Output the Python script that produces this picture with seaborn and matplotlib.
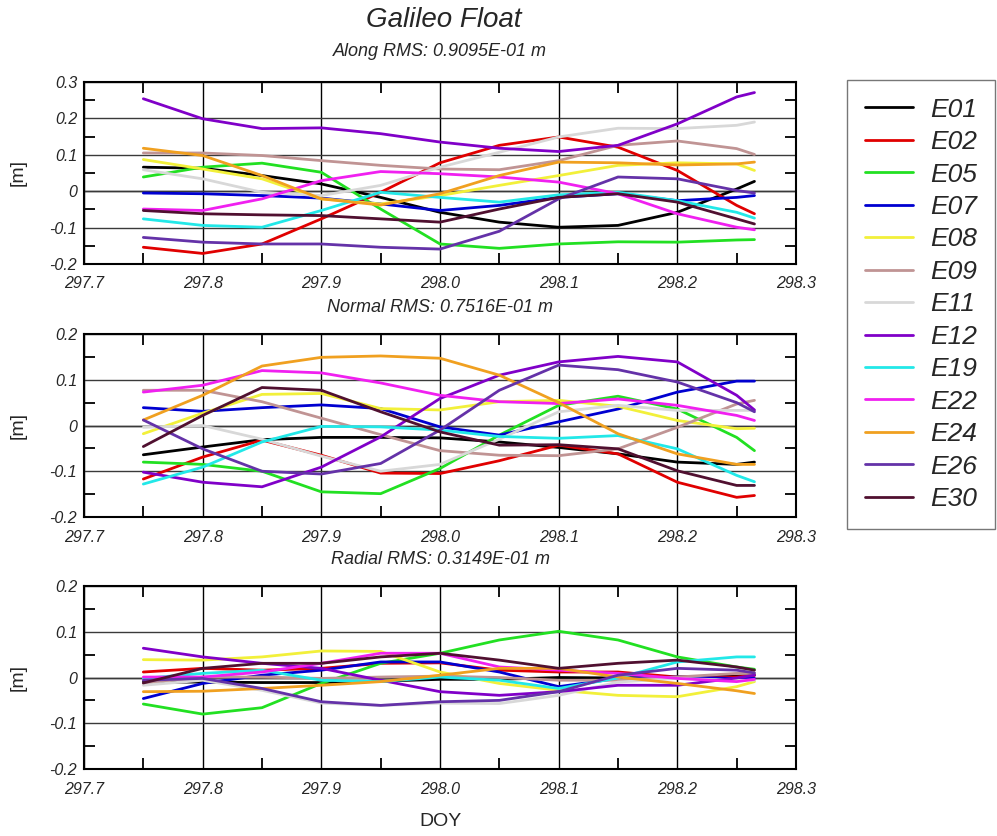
import numpy as np
import pandas as pd
import matplotlib
matplotlib.use('Agg')
import matplotlib.pyplot as plt
import seaborn as sns
from matplotlib.lines import Line2D
from matplotlib.ticker import MultipleLocator

sns.set_style('white')
plt.rcParams['font.family'] = ['Liberation Sans', 'DejaVu Sans']

# satellites and their line colours
sats = ['E01', 'E02', 'E05', 'E07', 'E08', 'E09', 'E11', 'E12', 'E19', 'E22', 'E24', 'E26', 'E30']
colors = ['#000000', '#e00000', '#22e022', '#0000d0', '#f2f03a', '#c09494', '#d8d8d8',
          '#8000c8', '#22e8e8', '#f020f0', '#f0a020', '#6432a8', '#501030']

# sampled epochs (day of year)
doy = [297.75, 297.80, 297.85, 297.90, 297.95, 298.00, 298.05, 298.10, 298.15, 298.20, 298.25, 298.265]

# residuals [m]
along = {
    'E01': [0.066, 0.063, 0.043, 0.020, -0.017, -0.058, -0.085, -0.099, -0.094, -0.058, 0.006, 0.027],
    'E02': [-0.154, -0.171, -0.145, -0.076, -0.003, 0.078, 0.126, 0.149, 0.121, 0.057, -0.039, -0.062],
    'E05': [0.039, 0.066, 0.077, 0.052, -0.049, -0.145, -0.157, -0.145, -0.139, -0.140, -0.134, -0.133],
    'E07': [-0.005, -0.007, -0.012, -0.019, -0.035, -0.053, -0.039, -0.017, -0.007, -0.026, -0.017, -0.012],
    'E08': [0.087, 0.061, 0.034, -0.021, -0.035, -0.012, 0.016, 0.043, 0.071, 0.078, 0.075, 0.057],
    'E09': [0.105, 0.105, 0.098, 0.084, 0.071, 0.061, 0.059, 0.084, 0.126, 0.138, 0.117, 0.101],
    'E11': [0.059, 0.034, -0.003, -0.012, 0.016, 0.066, 0.107, 0.149, 0.173, 0.172, 0.181, 0.190],
    'E12': [0.254, 0.199, 0.172, 0.174, 0.158, 0.135, 0.118, 0.109, 0.126, 0.185, 0.259, 0.271],
    'E19': [-0.076, -0.094, -0.099, -0.053, -0.003, -0.017, -0.030, -0.010, -0.003, -0.026, -0.058, -0.074],
    'E22': [-0.049, -0.053, -0.021, 0.029, 0.054, 0.048, 0.039, 0.025, -0.007, -0.062, -0.099, -0.106],
    'E24': [0.118, 0.098, 0.043, -0.021, -0.038, -0.007, 0.043, 0.080, 0.078, 0.072, 0.075, 0.080],
    'E26': [-0.127, -0.140, -0.145, -0.145, -0.154, -0.159, -0.110, -0.021, 0.039, 0.034, 0.002, -0.005],
    'E30': [-0.053, -0.062, -0.065, -0.067, -0.076, -0.085, -0.049, -0.017, -0.007, -0.030, -0.076, -0.090],
}
normal = {
    'E01': [-0.064, -0.047, -0.031, -0.026, -0.026, -0.027, -0.036, -0.048, -0.062, -0.080, -0.085, -0.080],
    'E02': [-0.117, -0.069, -0.032, -0.065, -0.104, -0.105, -0.077, -0.043, -0.062, -0.124, -0.157, -0.153],
    'E05': [-0.080, -0.085, -0.100, -0.145, -0.149, -0.094, -0.021, 0.044, 0.064, 0.036, -0.026, -0.055],
    'E07': [0.039, 0.031, 0.039, 0.045, 0.037, -0.003, -0.021, 0.008, 0.036, 0.073, 0.097, 0.097],
    'E08': [-0.018, 0.027, 0.068, 0.070, 0.037, 0.034, 0.052, 0.055, 0.042, 0.011, -0.007, -0.006],
    'E09': [0.077, 0.077, 0.052, 0.016, -0.020, -0.055, -0.065, -0.066, -0.051, -0.004, 0.047, 0.055],
    'E11': [-0.004, 0.000, -0.030, -0.067, -0.100, -0.085, -0.030, 0.030, 0.044, 0.033, 0.033, 0.033],
    'E12': [-0.102, -0.124, -0.134, -0.091, -0.025, 0.059, 0.110, 0.139, 0.151, 0.139, 0.066, 0.034],
    'E19': [-0.128, -0.091, -0.036, -0.002, -0.003, -0.010, -0.024, -0.028, -0.022, -0.051, -0.109, -0.123],
    'E22': [0.073, 0.088, 0.120, 0.115, 0.093, 0.066, 0.052, 0.048, 0.058, 0.044, 0.022, 0.011],
    'E24': [0.012, 0.066, 0.130, 0.149, 0.152, 0.147, 0.110, 0.050, -0.018, -0.062, -0.085, -0.085],
    'E26': [0.012, -0.051, -0.100, -0.106, -0.083, -0.010, 0.077, 0.132, 0.122, 0.095, 0.050, 0.030],
    'E30': [-0.046, 0.022, 0.083, 0.077, 0.030, -0.014, -0.043, -0.042, -0.051, -0.099, -0.131, -0.131],
}
radial = {
    'E01': [-0.010, -0.010, -0.011, -0.011, -0.008, -0.004, -0.004, 0.000, -0.001, 0.001, 0.003, 0.005],
    'E02': [0.012, 0.020, 0.016, 0.020, 0.031, 0.032, 0.016, 0.012, 0.012, 0.001, 0.001, 0.005],
    'E05': [-0.058, -0.080, -0.066, -0.013, 0.031, 0.053, 0.082, 0.101, 0.082, 0.045, 0.023, 0.018],
    'E07': [-0.046, -0.013, 0.005, 0.016, 0.034, 0.034, 0.012, -0.020, -0.002, 0.001, -0.002, -0.002],
    'E08': [0.039, 0.038, 0.045, 0.058, 0.057, 0.012, -0.013, -0.028, -0.039, -0.042, -0.020, -0.009],
    'E09': [-0.013, 0.001, 0.001, -0.002, 0.001, 0.003, 0.000, -0.006, -0.006, 0.001, 0.009, 0.009],
    'E11': [-0.017, -0.006, -0.028, -0.056, -0.061, -0.056, -0.057, -0.039, -0.010, -0.002, -0.006, -0.006],
    'E12': [0.064, 0.045, 0.031, 0.020, -0.006, -0.031, -0.039, -0.031, -0.017, -0.017, -0.001, 0.005],
    'E19': [-0.002, 0.009, 0.016, -0.006, -0.009, 0.001, -0.006, -0.024, -0.001, 0.034, 0.045, 0.045],
    'E22': [0.001, 0.001, 0.012, 0.031, 0.053, 0.053, 0.023, 0.016, 0.009, -0.002, -0.009, -0.004],
    'E24': [-0.031, -0.030, -0.024, -0.017, -0.009, 0.005, 0.020, 0.020, 0.001, -0.013, -0.029, -0.035],
    'E26': [-0.006, -0.002, -0.024, -0.053, -0.061, -0.053, -0.050, -0.031, 0.005, 0.020, 0.016, 0.010],
    'E30': [-0.012, 0.020, 0.031, 0.031, 0.045, 0.053, 0.038, 0.020, 0.031, 0.038, 0.023, 0.016],
}

W, H = 997, 836
palette = dict(zip(sats, colors))


def long_form(d):
    rows = []
    for s in sats:
        for x, v in zip(doy, d[s]):
            rows.append((s, x, v))
    return pd.DataFrame(rows, columns=['sat', 'doy', 'res'])


fig = plt.figure(figsize=(W / 100, H / 100), dpi=100)

# (data, subtitle, top px, bottom px, ymax, subtitle y px)
panels = [
    (along, 'Along RMS: 0.9095E-01 m', 82, 264, 0.3, 52),
    (normal, 'Normal RMS: 0.7516E-01 m', 334, 517, 0.2, 308),
    (radial, 'Radial RMS: 0.3149E-01 m', 586, 769, 0.2, 560),
]
left_px, right_px = 84, 796

for data, sub, top, bot, ymax, suby in panels:
    ax = fig.add_axes([left_px / W, 1 - bot / H, (right_px - left_px) / W, (bot - top) / H])
    df = long_form(data)
    sns.lineplot(data=df, x='doy', y='res', hue='sat', hue_order=sats, palette=palette,
                 linewidth=2.0, legend=False, sort=False, estimator=None, ax=ax)
    ax.set_xlim(297.7, 298.3)
    ax.set_ylim(-0.2, ymax)
    xt = [297.7, 297.8, 297.9, 298.0, 298.1, 298.2, 298.3]
    ax.set_xticks(xt)
    ax.set_xticklabels(['%.1f' % v for v in xt], fontstyle='italic', fontsize=11.5)
    yt = list(np.round(np.arange(-0.2, ymax + 0.01, 0.1), 1))
    ax.set_yticks(yt)
    ax.set_yticklabels(['0' if v == 0 else '%.1f' % v for v in yt], fontstyle='italic', fontsize=11.5)
    ax.xaxis.set_minor_locator(MultipleLocator(0.05))
    ax.yaxis.set_minor_locator(MultipleLocator(0.05))
    ax.tick_params(axis='x', which='major', length=0, pad=9)
    ax.tick_params(axis='y', which='major', length=0, pad=5)
    ax.tick_params(which='minor', direction='in', length=8, width=1.3, color='black',
                   top=True, bottom=True, left=True, right=True)
    ax.xaxis.grid(True, which='major', color='black', lw=1.0)
    ax.yaxis.grid(True, which='major', color='#3a3a3a', lw=1.0)
    ax.axhline(0, color='black', lw=1.0, zorder=0.5)
    ax.set_axisbelow(True)
    for sp in ax.spines.values():
        sp.set_color('black')
        sp.set_linewidth(1.5)
    ax.set_xlabel('')
    ax.set_ylabel('')
    fig.text(440 / W, 1 - suby / H, sub, ha='center', va='center', fontsize=13, fontstyle='italic')
    fig.text(18 / W, 1 - (top + bot) / 2 / H, '[m]', ha='center', va='center', rotation=90, fontsize=14)

fig.text(444 / W, 1 - 20 / H, 'Galileo Float', ha='center', va='center', fontsize=20, fontstyle='italic')
fig.text(440 / W, 1 - 822 / H, 'DOY', ha='center', va='center', fontsize=14)

handles = [Line2D([0], [0], color=c, lw=2.0) for c in colors]
leg = fig.legend(handles, sats, loc='upper left', bbox_to_anchor=(847 / W, 1 - 80 / H),
                 prop={'style': 'italic', 'size': 19}, frameon=True, fancybox=False,
                 edgecolor='#555555', borderpad=0.67, labelspacing=0.32, handlelength=1.82,
                 handletextpad=0.68, borderaxespad=0)
leg.get_frame().set_linewidth(1.0)

fig.savefig('out.png', dpi=100)
